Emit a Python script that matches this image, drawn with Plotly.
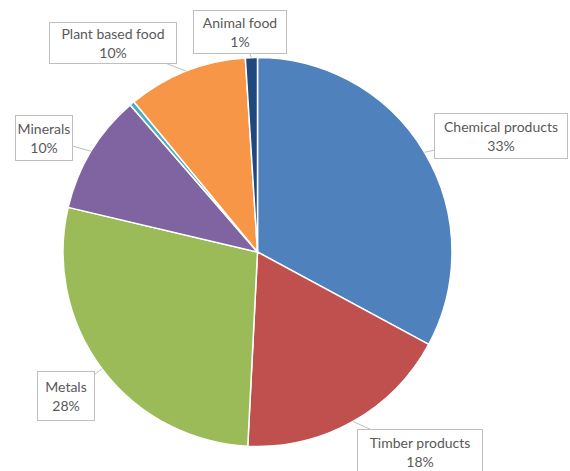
import math
import plotly.graph_objects as go

# Share of material categories (percent), clockwise from 12 o'clock
categories = ["Chemical products", "Timber products", "Metals", "Minerals",
              "Other", "Plant based food", "Animal food"]
values = [33, 18, 28, 10, 0.4, 10, 1]
colors = ["#4f81bd", "#c0504d", "#9bbb59", "#8064a2",
          "#4bacc6", "#f79646", "#1f497d"]
# Which slices get a callout label
labelled = [True, True, True, True, False, True, True]
# Callout box centres in pixels (x from left, y from top)
box_centres = {
    "Chemical products": (501, 136),
    "Timber products": (420, 452),
    "Metals": (66, 396),
    "Minerals": (44, 138),
    "Plant based food": (113, 43),
    "Animal food": (240, 32),
}
box_sizes = {
    "Chemical products": (134, 46),
    "Timber products": (126, 46),
    "Metals": (58, 50),
    "Minerals": (58, 46),
    "Plant based food": (128, 42),
    "Animal food": (94, 44),
}

W, H = 570, 471
cx, cy, r = 257.5, 252.0, 194.5  # pie centre / radius in pixels

fig = go.Figure(go.Pie(
    labels=categories,
    values=values,
    sort=False,
    direction="clockwise",
    rotation=0,
    marker=dict(colors=colors, line=dict(color="white", width=1.5)),
    textinfo="none",
    hoverinfo="label+percent",
    domain=dict(x=[(cx - r) / W, (cx + r) / W],
                y=[(H - cy - r) / H, (H - cy + r) / H]),
    showlegend=False,
))

total = sum(values)
annotations = []
cum = 0.0
for name, v, show in zip(categories, values, labelled):
    mid = (cum + v / 2) / total * 2 * math.pi
    cum += v
    if not show:
        continue
    tx = cx + r * math.sin(mid)
    ty = cy - r * math.cos(mid)
    bx, by = box_centres[name]
    bw, bh = box_sizes[name]
    pct = round(v / total * 100)
    annotations.append(dict(
        x=tx / W, y=(H - ty) / H, xref="paper", yref="paper",
        text=f"{name}<br>{pct}%",
        showarrow=True, arrowhead=0, arrowwidth=1, arrowcolor="#bfbfbf",
        ax=bx - tx, ay=by - ty,
        width=bw - 4, height=bh - 4,
        bgcolor="white", bordercolor="#bfbfbf", borderwidth=1, borderpad=1,
        font=dict(family="Lato", size=14, color="#595959"),
        align="center",
    ))

fig.update_layout(
    width=W, height=H,
    margin=dict(l=0, r=0, t=0, b=0),
    paper_bgcolor="white",
    plot_bgcolor="white",
    annotations=annotations,
)

fig.write_html("out.html")
